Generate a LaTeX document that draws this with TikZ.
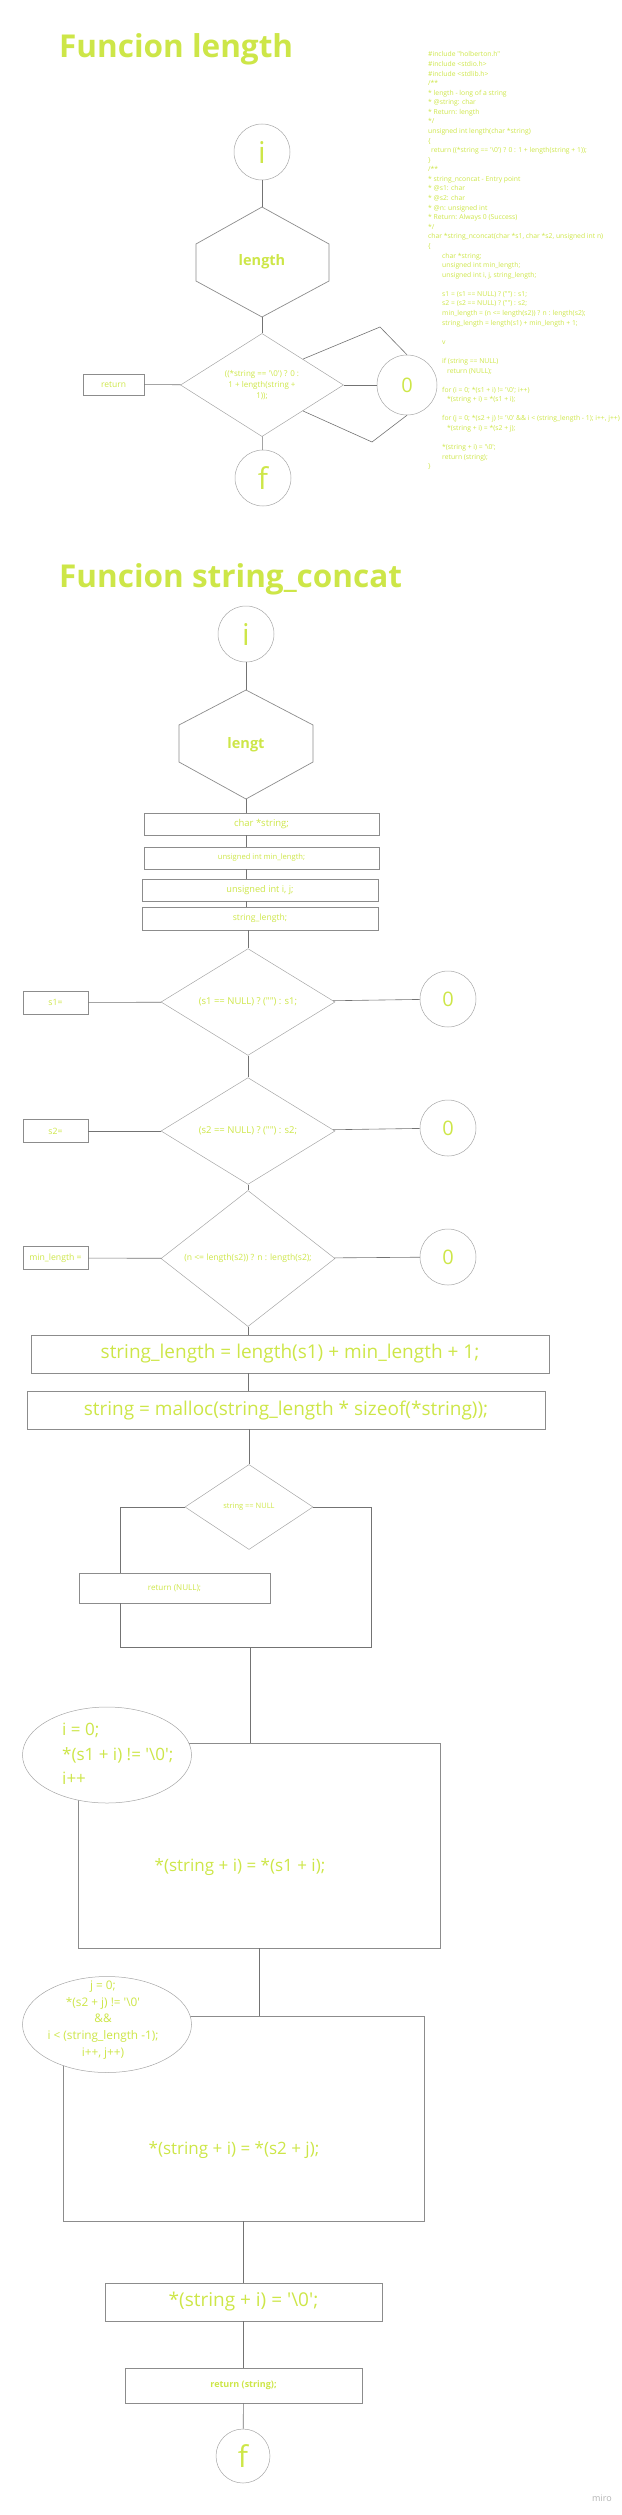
\documentclass[tikz,border=0pt]{standalone}
\usepackage{fontspec}
\setmainfont[Ligatures=TeXOff]{Open Sans}
\usetikzlibrary{shapes.geometric}
\definecolor{lima}{RGB}{205,230,72}
\newcommand{\bsl}{\textbackslash}
\newcommand{\ind}{\hspace*{14pt}}
\newcommand{\indd}{\hspace*{19pt}}
\tikzstyle{every node}=[text=lima, inner sep=0pt]
\tikzset{shapeline/.style={draw=black!45, line width=0.7pt}}
\tikzset{link/.style={draw=black!55, line width=0.6pt}}
\tikzset{term/.style={circle, draw=black!35, line width=0.5pt, minimum size=56pt,
      font=\fontsize{30}{30}\selectfont}}
\tikzset{zero/.style={circle, draw=black!35, line width=0.5pt, minimum size=56pt,
      font=\fontsize{20}{20}\selectfont}}
\tikzset{stepbox/.style={rectangle, shapeline, minimum width=235pt, minimum height=22pt}}
\tikzset{varbox/.style={rectangle, shapeline, minimum width=65pt, minimum height=23pt,
      font=\fontsize{8.7}{10}\selectfont}}
\tikzset{cond/.style={diamond, draw=black!35, line width=0.5pt, minimum width=174pt,
      minimum height=105pt, align=center}}
\tikzset{forloop/.style={ellipse, draw=black!35, line width=0.5pt, fill=white,
      minimum width=169pt, minimum height=96pt}}
\tikzset{hexlabel/.style={font=\bfseries\fontsize{14.5}{14.5}\selectfont}}
\tikzset{heading/.style={anchor=base west, font=\bfseries\fontsize{31.5}{31.5}\selectfont}}

\begin{document}
\begin{tikzpicture}[x=1pt,y=-1pt]
    \useasboundingbox (0,0) rectangle (621,2515);
    \node[heading] (t1) at (59,58) {Funcion length};
    \node[anchor=north west, align=left, font=\fontsize{6.8}{9.58}\selectfont] (codeblock) at (428,51.5) {%
      \#include "holberton.h"\\
      \#include <stdio.h>\\
      \#include <stdlib.h>\\
      /**\\
      {*} length - long of a string\\
      {*} @string: char\\
      {*} Return: length\\
      {*}/\\
      unsigned int length(char *string)\\
      \{\\
      \hspace*{3pt}return ((*string == '\bsl0') ? 0 : 1 + length(string + 1));\\
      \}\\
      /**\\
      {*} string\_nconcat - Entry point\\
      {*} @s1: char\\
      {*} @s2: char\\
      {*} @n: unsigned int\\
      {*} Return: Always 0 (Success)\\
      {*}/\\
      char *string\_nconcat(char *s1, char *s2, unsigned int n)\\
      \{\\
      \ind char *string;\\
      \ind unsigned int min\_length;\\
      \ind unsigned int i, j, string\_length;\\
      \mbox{}\\
      \ind s1 = (s1 == NULL) ? ("") : s1;\\
      \ind s2 = (s2 == NULL) ? ("") : s2;\\
      \ind min\_length = (n <= length(s2)) ? n : length(s2);\\
      \ind string\_length = length(s1) + min\_length + 1;\\
      \mbox{}\\
      \ind v\\
      \mbox{}\\
      \ind if (string == NULL)\\
      \indd return (NULL);\\
      \mbox{}\\
      \ind for (i = 0; *(s1 + i) != '\bsl0'; i++)\\
      \indd *(string + i) = *(s1 + i);\\
      \mbox{}\\
      \ind for (j = 0; *(s2 + j) != '\bsl0' \&\& i < (string\_length - 1); i++, j++)\\
      \indd *(string + i) = *(s2 + j);\\
      \mbox{}\\
      \ind *(string + i) = '\bsl0';\\
      \ind return (string);\\
      \}};
    \node[term] (i1) at (262,152) {i};
    \node[hexlabel] (hex1) at (262,262) {length};
    \draw[shapeline] (hex1) ++(0,-55) coordinate (hex1n) -- ++(67,37) -- ++(0,37)
      -- ++(-67,36) coordinate (hex1s) -- ++(-66,-36) -- ++(0,-37) -- cycle;
    \node[cond, minimum width=163pt, minimum height=100pt, font=\fontsize{8}{10.8}\selectfont] (len) at (262,385)
      {((*string == '\bsl0') ? 0 :\\ 1 + length(string +\\ 1));};
    \node[varbox, minimum width=61pt, minimum height=21pt, font=\fontsize{8.5}{8.5}\selectfont] (ret1) at (113.5,384.5) {return};
    \node[zero, minimum size=60pt] (z1) at (407,385) {0};
    \node[term] (f1) at (263,478) {f};
    \coordinate (bendA) at (380,327);
    \coordinate (bendB) at (372,442);
    \draw[link] (i1) -- (hex1n);
    \draw[link] (hex1s) -- (len);
    \draw[link] (ret1) -- (len);
    \draw[link] (len) -- (z1);
    \draw[link] (len) -- (f1);
    \draw[link] (len.north east) -- (bendA) -- (z1.north);
    \draw[link] (len.south east) -- (bendB) -- (z1.south);

    \node[heading] (t2) at (59,587) {Funcion string\_concat};
    \node[term] (i2) at (246,634) {i};
    \node[hexlabel] (hex2) at (246,745) {lengt};
    \draw[shapeline] (hex2) ++(0,-55) coordinate (hex2n) -- ++(67,35) -- ++(0,37)
      -- ++(-67,37) coordinate (hex2s) -- ++(-67,-37) -- ++(0,-37) -- cycle;
    \node[stepbox, font=\fontsize{9.5}{9.5}\selectfont] (decl1) at (261.5,824) {char *string;};
    \node[stepbox, font=\fontsize{7.6}{7.6}\selectfont] (decl2) at (261.5,858) {unsigned int min\_length;};
    \node[stepbox, minimum width=236pt, font=\fontsize{9.2}{9.2}\selectfont] (decl3) at (260,890) {unsigned int i, j;};
    \node[stepbox, minimum width=236pt, minimum height=23pt, font=\fontsize{8.6}{8.6}\selectfont] (decl4) at (260,918.5) {string\_length;};
    \draw[link] (i2) -- (hex2n);
    \draw[link] (hex2s) -- (decl1.north -| hex2s);
    \draw[link] (decl1.south -| hex2s) -- (decl2.north -| hex2s);
    \draw[link] (decl2.south -| hex2s) -- (decl3.north -| hex2s);
    \draw[link] (decl3.south -| hex2s) -- (decl4.north -| hex2s);

    \node[cond, font=\fontsize{9.5}{9.5}\selectfont] (c1) at (248,1002) {(s1 == NULL) ? ("") : s1;};
    \node[cond, font=\fontsize{9.5}{9.5}\selectfont] (c2) at (248,1131) {(s2 == NULL) ? ("") : s2;};
    \node[cond, font=\fontsize{8.6}{8.6}\selectfont] (c3) at (248,1258.5) {(n <= length(s2)) ? n : length(s2);};
    \node[varbox] (v1) at (55.5,1002.5) {s1=};
    \node[varbox] (v2) at (55.5,1131) {s2=};
    \node[varbox] (v3) at (55.5,1258) {min\_length =};
    \node[zero] (z2) at (448,999) {0};
    \node[zero] (z3) at (448,1128) {0};
    \node[zero] (z4) at (448,1257) {0};
    \draw[link] (decl4.south -| c1) -- (c1);
    \draw[link] (v1) -- (c1);
    \draw[link] (c1) -- (z2);
    \draw[link] (c1) -- (c2);
    \draw[link] (v2) -- (c2);
    \draw[link] (c2) -- (z3);
    \draw[link] (c2) -- (c3);
    \draw[link] (v3) -- (c3);
    \draw[link] (c3) -- (z4);

    \node[stepbox, minimum width=518pt, minimum height=38pt, font=\fontsize{19}{19}\selectfont] (sum) at (290,1354)
      {string\_length = length(s1) + min\_length + 1;};
    \node[stepbox, minimum width=518pt, minimum height=38pt, font=\fontsize{19}{19}\selectfont] (alloc) at (286,1410)
      {string = malloc(string\_length * sizeof(*string));};
    \node[cond, minimum width=128pt, minimum height=85pt, font=\fontsize{7.5}{7.5}\selectfont] (nul) at (249,1507) {string == NULL};
    \node[stepbox, minimum width=191pt, minimum height=30pt, font=\fontsize{8.1}{8.1}\selectfont] (retnull) at (174.5,1588) {return (NULL);};
    \coordinate (joinL) at (120,1647);
    \coordinate (joinR) at (371,1647);
    \coordinate (join) at (250,1647);
    \draw[link] (c3) -- (sum.north -| c3);
    \draw[link] (sum.south -| c3) -- (alloc.north -| c3);
    \draw[link] (alloc.south -| nul) -- (nul);
    \draw[link] (nul.west) -| (retnull.north -| joinL);
    \draw[link] (retnull.south -| joinL) -- (joinL) -- (joinR) |- (nul.east);

    \node[stepbox, minimum width=362pt, minimum height=205pt] (loop1) at (259,1845.5) {};
    \node[font=\fontsize{17}{17}\selectfont] (body1) at (240,1867) {*(string + i) = *(s1 + i);};
    \node[forloop] (for1) at (107,1755) {};
    \node[anchor=west, align=left, font=\fontsize{17}{24.5}\selectfont] (for1txt) at (62,1754)
      {i = 0;\\ {*}(s1 + i) != '\bsl0';\\ i++};
    \node[stepbox, minimum width=361pt, minimum height=205pt] (loop2) at (243.5,2118.5) {};
    \node[font=\fontsize{17}{17}\selectfont] (body2) at (234,2150) {*(string + i) = *(s2 + j);};
    \node[forloop] (for2) at (107,2024.5) {};
    \node[align=center, font=\fontsize{11.8}{16.7}\selectfont] (for2txt) at (103,2020)
      {j = 0;\\ {*}(s2 + j) != '\bsl0'\\ \&\&\\ i < (string\_length -1);\\ i++, j++)};
    \draw[link] (join) -- (join |- loop1.north);
    \draw[link] (loop1.south) -- (loop1.south |- loop2.north);

    \node[stepbox, minimum width=277pt, minimum height=38pt, font=\fontsize{19}{19}\selectfont] (nulchar) at (243.5,2302) {*(string + i) = '\bsl0';};
    \node[stepbox, minimum width=237pt, minimum height=35pt, font=\bfseries\fontsize{9}{9}\selectfont] (retstr) at (243.5,2385.5) {return (string);};
    \node[term, minimum size=54pt] (f2) at (243,2456) {f};
    \node[text=black!30, font=\fontsize{9}{9}\selectfont] (miro) at (602,2498) {miro};
    \draw[link] (loop2.south) -- (nulchar);
    \draw[link] (nulchar) -- (retstr);
    \draw[link] (retstr) -- (f2);
\end{tikzpicture}
\end{document}
